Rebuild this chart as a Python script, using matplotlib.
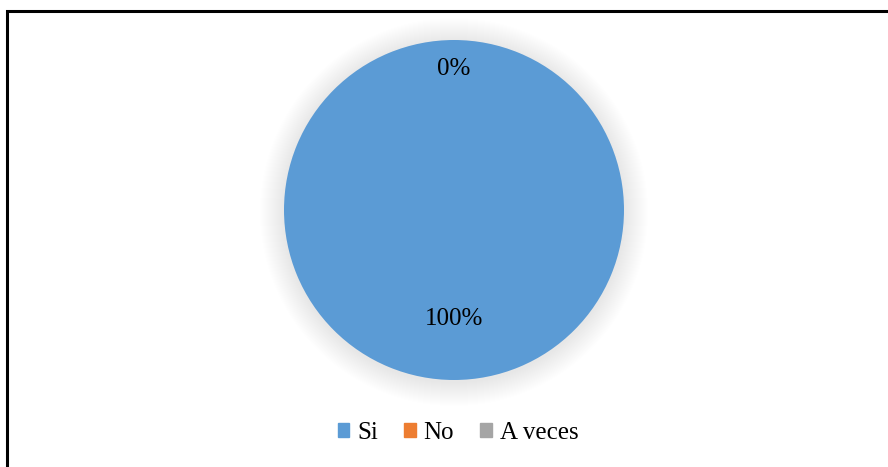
import matplotlib.pyplot as plt
from matplotlib.patches import Circle, Rectangle, Patch
import numpy as np

categories = ['Si', 'No', 'A veces']
values = [100, 0, 0]
colors = ['#5B9BD5', '#ED7D31', '#A5A5A5']

plt.rcParams['font.family'] = ['Liberation Serif', 'DejaVu Serif']

fig = plt.figure(figsize=(8.88, 4.67), dpi=100)
ax = fig.add_axes([0, 0, 1, 1])
ax.set_xlim(0, 888)
ax.set_ylim(0, 467)
ax.set_aspect('equal')
ax.axis('off')

cx, cy, r = 454, 257, 170

# soft shadow around the pie
for k in range(24, 0, -1):
    ax.add_patch(Circle((cx, cy - 2), r + k, color='#000000', alpha=0.0055, lw=0, zorder=1))

wedges, texts, autotexts = ax.pie(values, colors=colors, startangle=90, counterclock=False,
                                  radius=r, center=(cx, cy), autopct='%1.0f%%',
                                  pctdistance=0.64, wedgeprops=dict(linewidth=0),
                                  textprops=dict(fontsize=18, color='black'))
for w, t, v in zip(wedges, autotexts, values):
    w.set_zorder(2)
    t.set_zorder(3)
    if v == 0:
        ang = np.deg2rad((w.theta1 + w.theta2) / 2)
        t.set_position((cx + 0.83 * r * np.cos(ang), cy + 0.83 * r * np.sin(ang)))
# Excel only shows one of the overlapping 0% labels
autotexts[2].set_visible(False)

ax.set_xlim(0, 888)
ax.set_ylim(0, 467)

# chart frame
ax.add_patch(Rectangle((7, -10), 900, 467 - 11 + 10, fill=False, ec='black', lw=2.2,
                       zorder=5, clip_on=False))

handles = [Patch(color=c, label=l) for c, l in zip(colors, categories)]
ax.legend(handles=handles, loc='center', bbox_to_anchor=(458, 34),
          bbox_transform=ax.transData, ncol=3, frameon=False, fontsize=18,
          handlelength=0.45, handleheight=0.45, handletextpad=0.32,
          columnspacing=1.05)

fig.savefig('out.png', dpi=100)
